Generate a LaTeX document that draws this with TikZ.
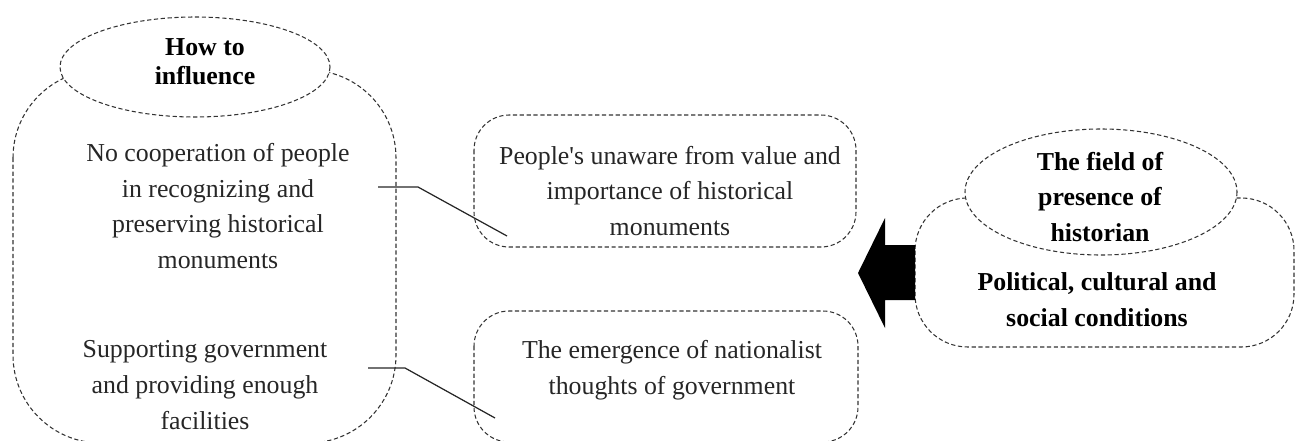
\documentclass[tikz,border=0pt]{standalone}
\usepackage{fontspec}
\setmainfont{Liberation Serif}
\usepackage{tikz}
\usetikzlibrary{positioning}

\begin{document}
\begin{tikzpicture}[x=0.02cm, y=-0.02cm,
    dashline/.style={line width=0.6pt, dash pattern=on 2.4pt off 1.5pt, black!80},
    plain/.style={align=center, text=black!85, inner sep=0pt, font=\fontsize{14.7}{20.4}\selectfont},
    heavy/.style={align=center, text=black, inner sep=0pt, font=\fontsize{14.7}{20.4}\selectfont\bfseries},
    link/.style={line width=0.7pt, black!85}]
			\clip (0,0) rectangle (1298,440);
			\useasboundingbox (0,0) rectangle (1298,440);

			% left column
			\draw [dashline, rounded corners=50] (13,70) rectangle (396,443);
			\draw [dashline, fill=white] (195,67) ellipse [x radius=135, y radius=50];
			\node [heavy, font=\fontsize{14.7}{16.5}\selectfont\bfseries] (how) at (205,62) {How to\\influence};
			\node [plain] (coop) at (218,206) {No cooperation of people\\in recognizing and\\preserving historical\\monuments};
			\node [plain] (support) at (205,385) {Supporting government\\and providing enough\\facilities};

			% middle column
			\draw [dashline, rounded corners=20] (474,115) rectangle (856,247);
			\node [plain] (unaware) at (670,191) {People\textquotesingle s unaware from value and\\importance of historical\\monuments};
			\draw [dashline, rounded corners=20] (474,311) rectangle (858,442);
			\node [plain] (nation) at (672,370) {The emergence of nationalist\\thoughts of government};

			\coordinate (c1a) at (378,187);
			\coordinate (c1b) at (418,187);
			\coordinate (c1c) at (507,236);
			\draw [link] (c1a) -- (c1b) -- (c1c);
			\coordinate (c2a) at (368,368);
			\coordinate (c2b) at (405,368);
			\coordinate (c2c) at (495,418);
			\draw [link] (c2a) -- (c2b) -- (c2c);

			% right column
			\draw [dashline, rounded corners=30] (915,198) rectangle (1294,347);
			\draw [dashline, fill=white] (1101,192) ellipse [x radius=136, y radius=63];
			\node [heavy] (field) at (1100,197) {The field of\\presence of\\historian};
			\node [heavy] (cond) at (1097,300) {Political, cultural and\\social conditions};

			\fill (858,273) -- (885,218) -- (885,245) -- (915,245) -- (915,300) -- (885,300) -- (885,328) -- cycle;
\end{tikzpicture}
\end{document}
